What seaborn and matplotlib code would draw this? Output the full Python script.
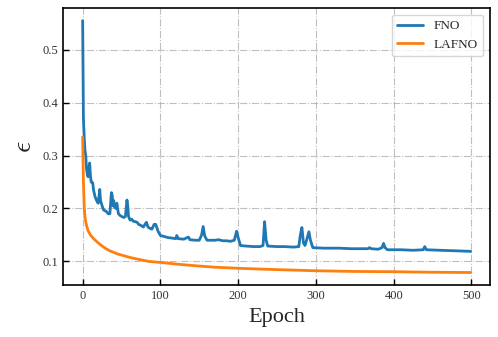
import pandas as pd
import matplotlib
matplotlib.use("Agg")
import matplotlib.pyplot as plt
import seaborn as sns

# values
fno_epoch = [0, 1, 2, 3, 4, 5, 6, 7, 8, 9, 10, 11, 12, 13, 14, 16, 18, 20, 22, 23,
             25, 27, 30, 33, 35, 37, 38, 39, 40, 41, 43, 44, 46, 48, 50, 53, 55, 57, 58, 59,
             61, 63, 65, 68, 70, 72, 75, 78, 82, 84, 87, 89, 92, 94, 97, 100, 105, 110, 115, 120,
             121, 123, 130, 136, 138, 145, 150, 153, 155, 157, 160, 170, 175, 180, 185, 190, 195, 198, 200, 203,
             210, 220, 228, 232, 234, 236, 238, 250, 260, 271, 278, 280, 282, 284, 286, 288, 291, 293, 296, 310,
             330, 345, 360, 367, 369, 371, 380, 385, 387, 389, 392, 410, 425, 438, 440, 442, 460, 480, 499]
fno_loss = [0.555, 0.37, 0.335, 0.31, 0.30, 0.275, 0.265, 0.26, 0.275, 0.286, 0.262, 0.25, 0.25, 0.248, 0.235, 0.222, 0.215, 0.21, 0.236, 0.215,
            0.205, 0.197, 0.195, 0.19, 0.19, 0.23, 0.225, 0.205, 0.215, 0.203, 0.2, 0.21, 0.19, 0.187, 0.185, 0.183, 0.185, 0.216, 0.205, 0.185,
            0.178, 0.18, 0.176, 0.175, 0.174, 0.17, 0.168, 0.165, 0.174, 0.165, 0.162, 0.161, 0.17, 0.17, 0.157, 0.149, 0.147, 0.145, 0.144, 0.143,
            0.149, 0.143, 0.142, 0.146, 0.141, 0.14, 0.14, 0.15, 0.166, 0.148, 0.14, 0.14, 0.141, 0.139, 0.139, 0.138, 0.14, 0.157, 0.145, 0.130,
            0.129, 0.128, 0.128, 0.13, 0.175, 0.14, 0.129, 0.128, 0.128, 0.127, 0.128, 0.15, 0.164, 0.135, 0.13, 0.14, 0.156, 0.14, 0.126, 0.125,
            0.125, 0.124, 0.124, 0.124, 0.126, 0.124, 0.123, 0.126, 0.134, 0.126, 0.122, 0.122, 0.121, 0.122, 0.128, 0.122, 0.121, 0.12, 0.119]

lafno_epoch = [0, 1, 2, 3, 4, 5, 7, 10, 14, 20, 25, 30, 35, 40, 45, 50, 57, 65, 75, 85,
               100, 120, 143, 170, 200, 228, 260, 300, 350, 400, 450, 499]
lafno_loss = [0.335, 0.25, 0.205, 0.184, 0.175, 0.168, 0.158, 0.15, 0.143, 0.135, 0.129, 0.124, 0.12, 0.117, 0.114, 0.112, 0.109, 0.106, 0.103, 0.1,
              0.098, 0.095, 0.092, 0.089, 0.087, 0.0855, 0.084, 0.0823, 0.081, 0.0805, 0.0795, 0.079]

df = pd.concat([
    pd.DataFrame({"epoch": fno_epoch, "loss": fno_loss, "model": "FNO"}),
    pd.DataFrame({"epoch": lafno_epoch, "loss": lafno_loss, "model": "LAFNO"}),
])

sns.set_style("ticks")
plt.rcParams["font.family"] = ["Liberation Serif", "DejaVu Serif"]
plt.rcParams["mathtext.fontset"] = "cm"

fig = plt.figure(figsize=(4.98, 3.37), dpi=100)
ax = fig.add_axes([0.127, 0.154, 0.857, 0.822])

sns.lineplot(data=df, x="epoch", y="loss", hue="model", palette=["#1f77b4", "#ff7f0e"],
             linewidth=2.0, ax=ax)

ax.grid(True, linestyle="-.", color="#b0b0b0", alpha=0.8, linewidth=0.8)
ax.tick_params(direction="in", labelsize=9, length=4, width=1, colors="black", labelcolor="#333333")
for s in ax.spines.values():
    s.set_linewidth(1.2)
    s.set_color("black")
ax.set_xticks([0, 100, 200, 300, 400, 500])
ax.set_yticks([0.1, 0.2, 0.3, 0.4, 0.5])
ax.set_xlabel("Epoch", fontsize=16)
ax.set_ylabel(r"$\epsilon$", fontsize=20)
ax.legend(title=None, loc="upper right", fontsize=9.5, frameon=True)

plt.savefig("out.png", dpi=100)
plt.close()
